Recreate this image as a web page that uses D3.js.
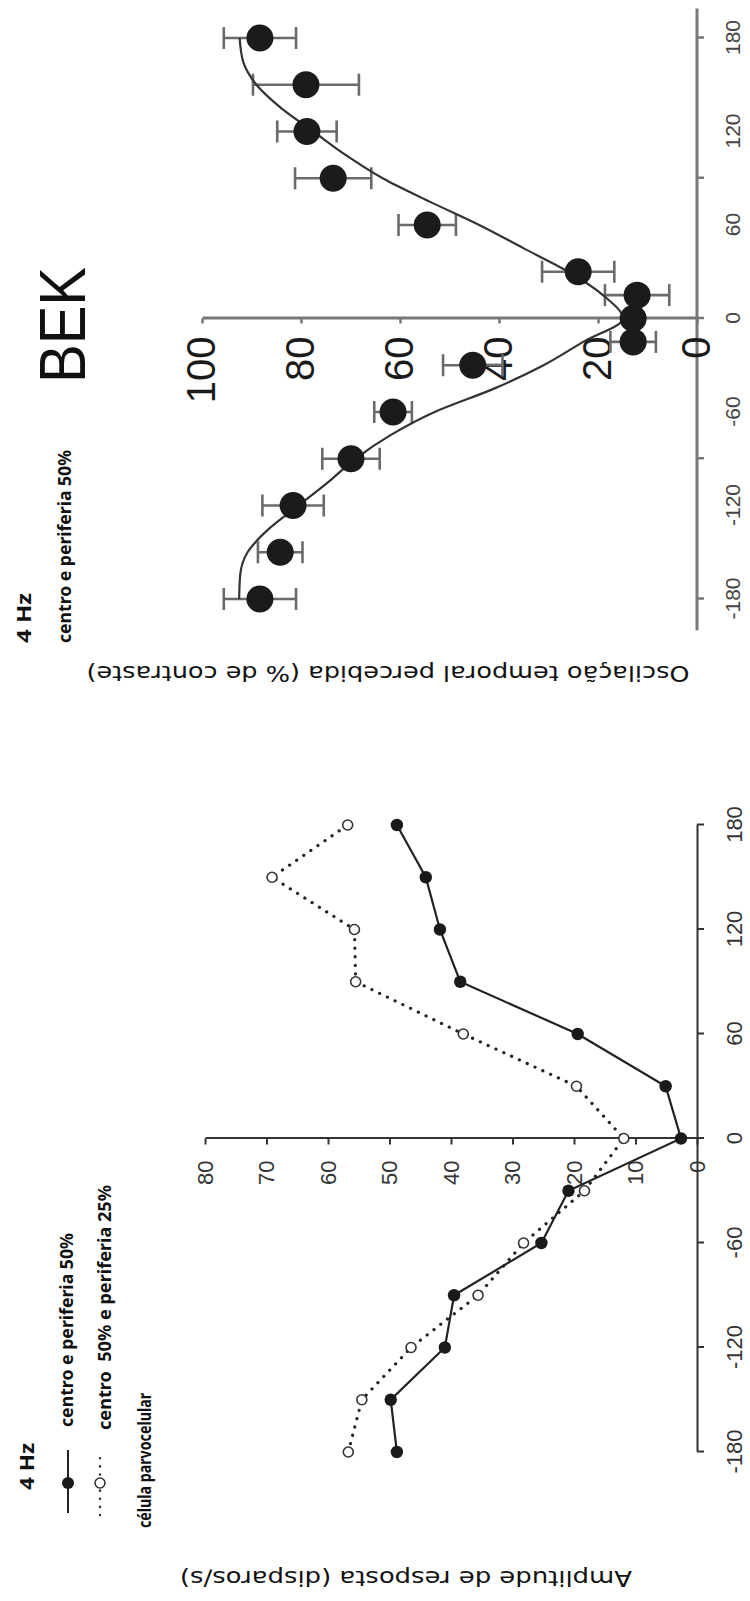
<!DOCTYPE html>
<html>
<head>
<meta charset="utf-8">
<script src="https://cdn.jsdelivr.net/npm/d3@7"></script>
<style>
  body { margin: 0; background: #fff; }
  svg { display: block; }
  .narrow { font-family: "Liberation Sans Narrow", "Arial Narrow", "Liberation Sans", sans-serif; }
  .legend { font-family: "Liberation Sans Narrow", "Arial Narrow", "Noto Sans", sans-serif; font-weight: bold; }
  .title { font-family: "DejaVu Sans", Verdana, sans-serif; }
</style>
</head>
<body>
<div id="chart"></div>
<script>
// ---- data ----
// panel 1: parvocellular cell response (disparos/s) vs phase
const phases = [-180, -150, -120, -90, -60, -30, 0, 30, 60, 90, 120, 150, 180];
const centroPeriferia50 = [48.8, 49.8, 41, 39.5, 25.3, 20.9, 2.6, 5.1, 19.4, 38.5, 41.8, 44.1, 48.8];
const centro50Periferia25 = [56.7, 54.5, 46.5, 35.6, 28.2, 18.3, 11.9, 19.6, 38.0, 55.5, 55.7, 69.1, 56.8];

// panel 2: BEK perceived flicker (% de contraste)
const bekPhases = [-180, -150, -120, -90, -60, -30, -15, 0, 15, 30, 60, 90, 120, 150, 180];
const bekValues = [88.3, 84.2, 81.6, 69.9, 61.4, 45.3, 12.9, 12.9, 12.1, 24.0, 54.5, 73.5, 78.8, 79.0, 88.3];
const bekErrors = [7.3, 4.5, 6.2, 5.8, 3.8, 6.0, 4.6, 0, 6.5, 7.3, 5.8, 7.7, 6.0, 10.7, 7.3];

// fitted curve
const fitPhases = [-180, -165, -150, -135, -120, -105, -90, -75, -60, -45, -30, -15, 0,
                   15, 30, 45, 60, 75, 90, 105, 120, 135, 150, 165, 180];
const fitValues = [92.5, 92.3, 90.8, 86.5, 80.5, 74.5, 69, 62, 53, 41, 31, 23, 15,
                   19, 26, 35, 44, 54, 63.5, 71, 77.5, 84, 89, 91.7, 92.4];

const phaseTicks = [-180, -120, -60, 0, 60, 120, 180];
const ampTicks = [0, 10, 20, 30, 40, 50, 60, 70, 80];
const bekTicks = [0, 20, 40, 60, 80, 100];
const bekTickMarks = [-180, -90, 0, 90, 180];

const W = 750, H = 1601;
const plain = (d) => String(d); // keep the ascii hyphen for negatives

const svg = d3.select("#chart")
  .append("svg")
  .attr("width", W)
  .attr("height", H);

// the figure is a landscape page turned a quarter turn counter-clockwise
const g = svg.append("g").attr("transform", `translate(0,${H}) rotate(-90)`);

// ================= panel 1 =================
const x1 = d3.scaleLinear([-180, 180], [149, 776]);
const y1 = d3.scaleLinear([0, 80], [697, 205]);

const ax1 = g.append("g")
  .attr("class", "narrow")
  .attr("transform", `translate(0,${y1(0)})`)
  .call(d3.axisBottom(x1).tickValues(phaseTicks).tickFormat(plain)
    .tickSize(7).tickSizeOuter(0).tickPadding(22));
const ay1 = g.append("g")
  .attr("class", "narrow")
  .attr("transform", `translate(${x1(0)},0)`)
  .call(d3.axisLeft(y1).tickValues(ampTicks).tickFormat(plain)
    .tickSize(6).tickSizeOuter(0).tickPadding(16));

[ax1, ay1].forEach((a) => {
  a.select(".domain").attr("stroke", "#333").attr("stroke-width", 2);
  a.selectAll(".tick line").attr("stroke", "#333").attr("stroke-width", 2);
  a.selectAll("text").attr("fill", "#333").style("font-size", "22px");
});

const line1 = d3.line().x((d) => x1(d[0])).y((d) => y1(d[1]));

const openPts = phases.map((p, i) => [p, centro50Periferia25[i]]);
const filledPts = phases.map((p, i) => [p, centroPeriferia50[i]]);

g.append("path")
  .datum(openPts)
  .attr("d", line1)
  .attr("fill", "none")
  .attr("stroke", "#222")
  .attr("stroke-width", 3.2)
  .attr("stroke-linecap", "round")
  .attr("stroke-dasharray", "0.1 8.5");

g.append("path")
  .datum(filledPts)
  .attr("d", line1)
  .attr("fill", "none")
  .attr("stroke", "#222")
  .attr("stroke-width", 2.2);

g.append("g")
  .selectAll("circle")
  .data(openPts)
  .join("circle")
  .attr("cx", (d) => x1(d[0]))
  .attr("cy", (d) => y1(d[1]))
  .attr("r", 5)
  .attr("fill", "#fff")
  .attr("stroke", "#333")
  .attr("stroke-width", 1.6);

g.append("g")
  .selectAll("circle")
  .data(filledPts)
  .join("circle")
  .attr("cx", (d) => x1(d[0]))
  .attr("cy", (d) => y1(d[1]))
  .attr("r", 6.2)
  .attr("fill", "#1a1a1a");

// legend panel 1
const leg1 = g.append("g").attr("class", "legend").attr("fill", "#111");
leg1.append("text").attr("x", 111).attr("y", 34).style("font-size", "20px")
  .attr("textLength", 47).attr("lengthAdjust", "spacingAndGlyphs").text("4 Hz");
leg1.append("line").attr("x1", 88).attr("x2", 151).attr("y1", 68).attr("y2", 68)
  .attr("stroke", "#222").attr("stroke-width", 2);
leg1.append("circle").attr("cx", 118).attr("cy", 68).attr("r", 6).attr("fill", "#1a1a1a");
leg1.append("text").attr("x", 174).attr("y", 73).style("font-size", "17px")
  .attr("textLength", 194).attr("lengthAdjust", "spacingAndGlyphs").text("centro e periferia 50%");
leg1.append("line").attr("x1", 86).attr("x2", 148).attr("y1", 100).attr("y2", 100)
  .attr("stroke", "#333").attr("stroke-width", 2.5).attr("stroke-linecap", "round")
  .attr("stroke-dasharray", "0.1 8");
leg1.append("circle").attr("cx", 118).attr("cy", 100).attr("r", 5)
  .attr("fill", "#fff").attr("stroke", "#333").attr("stroke-width", 1.6);
leg1.append("text").attr("x", 171).attr("y", 111).style("font-size", "17px")
  .attr("textLength", 245).attr("lengthAdjust", "spacingAndGlyphs").text("centro\u00a0 50% e periferia 25%");
leg1.append("text").attr("x", 73).attr("y", 151).style("font-size", "17px")
  .attr("textLength", 135).attr("lengthAdjust", "spacingAndGlyphs").text("célula parvocelular");

g.append("text")
  .attr("class", "title")
  .attr("transform", `translate(23,406) rotate(-90)`)
  .attr("text-anchor", "middle")
  .attr("dominant-baseline", "central")
  .style("font-size", "22px")
  .attr("fill", "#111")
  .attr("textLength", 452)
  .attr("lengthAdjust", "spacingAndGlyphs")
  .text("Amplitude de resposta (disparos/s)");

// ================= panel 2 (BEK) =================
const x2 = d3.scaleLinear([-180, 180], [1002, 1563]);
const y2 = d3.scaleLinear([0, 100], [697, 202]);

// axis line runs a little past the data range
g.append("line")
  .attr("x1", x2(-200)).attr("x2", x2(199))
  .attr("y1", y2(0)).attr("y2", y2(0))
  .attr("stroke", "#777").attr("stroke-width", 3);

const ax2 = g.append("g")
  .attr("transform", `translate(0,${y2(0)})`)
  .call(d3.axisBottom(x2).tickValues(bekTickMarks).tickSize(7).tickSizeOuter(0).tickFormat(""));
ax2.select(".domain").remove();
ax2.selectAll(".tick line").attr("stroke", "#777").attr("stroke-width", 2.5);

const ax2lab = g.append("g")
  .attr("class", "narrow")
  .attr("transform", `translate(0,${y2(0)})`)
  .call(d3.axisBottom(x2).tickValues(phaseTicks).tickFormat(plain).tickSize(0).tickPadding(28));
ax2lab.select(".domain").remove();
ax2lab.selectAll("text").attr("fill", "#444").style("font-size", "21px");

const ay2 = g.append("g")
  .attr("transform", `translate(${x2(0)},0)`)
  .call(d3.axisLeft(y2).tickValues(bekTicks).tickFormat(plain)
    .tickSize(5).tickSizeOuter(0).tickPadding(13));
ay2.select(".domain").attr("stroke", "#777").attr("stroke-width", 3);
ay2.selectAll(".tick line").attr("stroke", "#777").attr("stroke-width", 2.5);
ay2.selectAll("text")
  .attr("fill", "#1a1a1a")
  .style("font-family", "'Liberation Sans', Arial, sans-serif")
  .style("font-size", "40px");

const bekPts = bekPhases.map((p, i) => ({ p, v: bekValues[i], e: bekErrors[i] }));

// error bars (grey) behind the dots
const eb = g.append("g").attr("stroke", "#6a6a6a").attr("stroke-width", 2.6);
eb.selectAll(".bar")
  .data(bekPts.filter((d) => d.e > 0))
  .join("line")
  .attr("x1", (d) => x2(d.p)).attr("x2", (d) => x2(d.p))
  .attr("y1", (d) => y2(d.v - d.e)).attr("y2", (d) => y2(d.v + d.e));
["lo", "hi"].forEach((k) => {
  eb.selectAll(".cap-" + k)
    .data(bekPts.filter((d) => d.e > 0))
    .join("line")
    .attr("x1", (d) => x2(d.p) - 11).attr("x2", (d) => x2(d.p) + 11)
    .attr("y1", (d) => y2(k === "lo" ? d.v - d.e : d.v + d.e))
    .attr("y2", (d) => y2(k === "lo" ? d.v - d.e : d.v + d.e));
});

g.append("path")
  .datum(fitPhases.map((p, i) => [p, fitValues[i]]))
  .attr("d", d3.line().x((d) => x2(d[0])).y((d) => y2(d[1])).curve(d3.curveMonotoneX))
  .attr("fill", "none")
  .attr("stroke", "#333")
  .attr("stroke-width", 2.2);

g.append("g")
  .selectAll("circle")
  .data(bekPts)
  .join("circle")
  .attr("cx", (d) => x2(d.p))
  .attr("cy", (d) => y2(d.v))
  .attr("r", 13.5)
  .attr("fill", "#1d1a1b");

// legend panel 2
const leg2 = g.append("g").attr("class", "legend").attr("fill", "#111");
leg2.append("text").attr("x", 958).attr("y", 31).style("font-size", "20px")
  .attr("textLength", 50).attr("lengthAdjust", "spacingAndGlyphs").text("4 Hz");
leg2.append("text").attr("x", 958).attr("y", 71).style("font-size", "17px")
  .attr("textLength", 193).attr("lengthAdjust", "spacingAndGlyphs").text("centro e periferia 50%");

g.append("text")
  .attr("x", 1218).attr("y", 85)
  .style("font-family", "'Liberation Sans', Arial, sans-serif")
  .style("font-size", "64px")
  .attr("fill", "#111")
  .attr("textLength", 116)
  .attr("lengthAdjust", "spacingAndGlyphs")
  .text("BEK");

g.append("text")
  .attr("class", "title")
  .attr("transform", `translate(928,388) rotate(-90)`)
  .attr("text-anchor", "middle")
  .attr("dominant-baseline", "central")
  .style("font-size", "22px")
  .attr("fill", "#111")
  .attr("textLength", 603)
  .attr("lengthAdjust", "spacingAndGlyphs")
  .text("Oscilação temporal percebida (% de contraste)");
</script>
</body>
</html>
